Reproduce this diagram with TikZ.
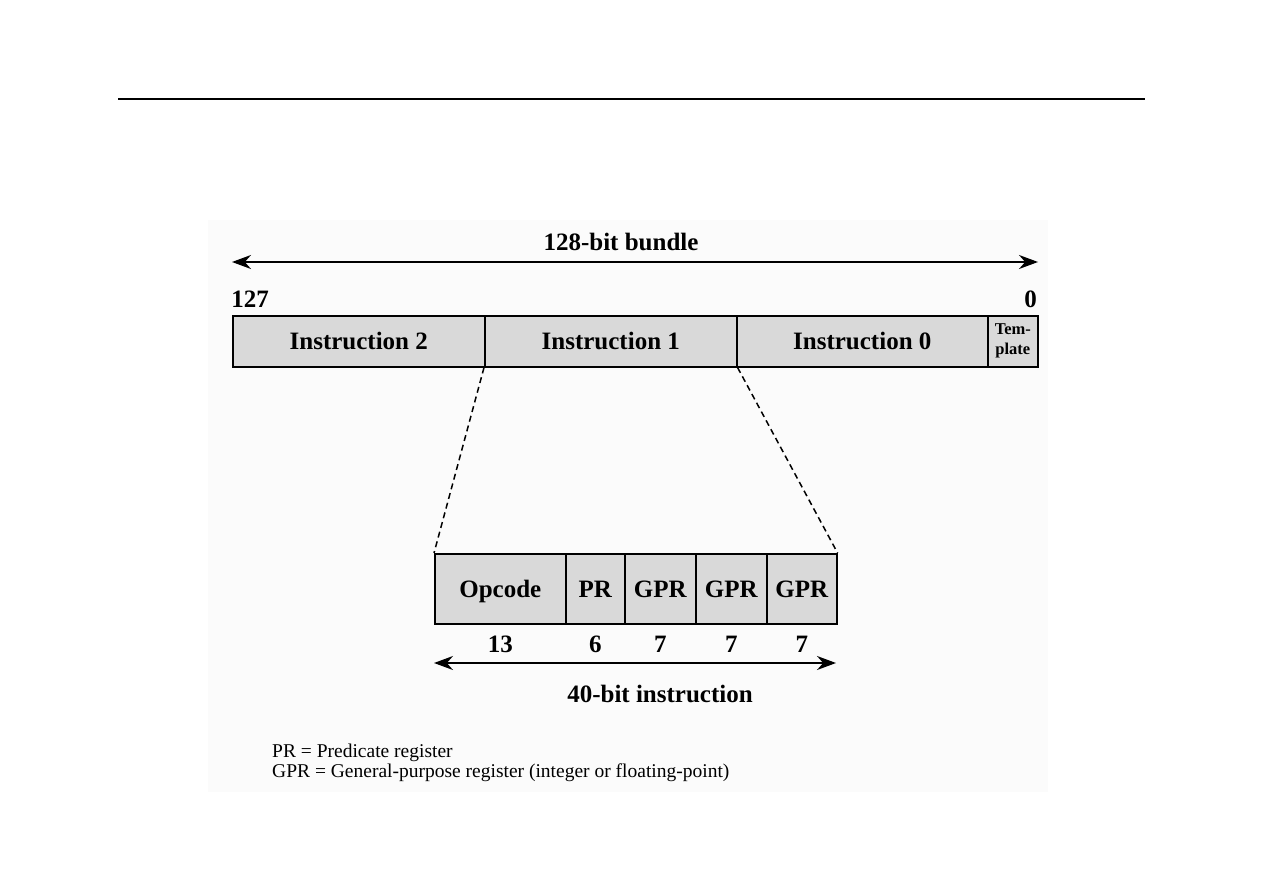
\documentclass[tikz,border=0pt]{standalone}
\usepackage{fontspec}
\setmainfont{Liberation Serif}
\usetikzlibrary{arrows.meta}
\definecolor{fieldGray}{HTML}{D9D9D9}
\definecolor{panelGray}{HTML}{FBFBFB}

\begin{document}
\begin{tikzpicture}[x=1pt, y=-1pt,
    cell/.style={draw, line width=1.6pt, fill=fieldGray, inner sep=0pt, anchor=north west},
    field/.style={cell, text height=16.5pt, text depth=0pt,
        font=\fontsize{25}{30}\selectfont\bfseries},
    span/.style={{Stealth[length=19pt,width=14pt]}-{Stealth[length=19pt,width=14pt]}, line width=1.6pt},
    lbl/.style={font=\fontsize{25}{30}\selectfont\bfseries, inner sep=0pt}]
    \useasboundingbox (0,0) rectangle (1263,893);
    \draw[line width=1.2pt] (118,99) -- (1145,99);
    \fill[panelGray] (208,220) rectangle (1048,792);

    % 128-bit bundle
    \coordinate (bundleL) at (232,262);
    \coordinate (bundleR) at (1038,262);
    \draw[span] (bundleL) -- (bundleR);
    \node[lbl] (bundle) at (621,242) {128-bit bundle};
    \node[lbl] (hi) at (250,299) {127};
    \node[lbl, anchor=east] (lo) at (1037,299) {0};
    \node[field, minimum width=252pt, minimum height=51pt] (ins2) at (232,315) {Instruction 2};
    \node[field, minimum width=252pt, minimum height=51pt] (ins1) at (484,315) {Instruction 1};
    \node[field, minimum width=251pt, minimum height=51pt] (ins0) at (736,315) {Instruction 0};
    \node[cell, minimum width=50pt, minimum height=51pt, align=center,
        font=\fontsize{16.5}{20}\selectfont\bfseries] (tmpl) at (987,315) {Tem-\\plate};

    % 40-bit instruction
    \node[field, minimum width=131pt, minimum height=70pt] (op) at (434,553) {Opcode};
    \node[field, minimum width=59pt, minimum height=70pt] (pr) at (565,553) {PR};
    \node[field, minimum width=71pt, minimum height=70pt] (gprA) at (624,553) {GPR};
    \node[field, minimum width=71pt, minimum height=70pt] (gprB) at (695,553) {GPR};
    \node[field, minimum width=70pt, minimum height=70pt] (gprC) at (766,553) {GPR};
    \draw[dashed, line width=1.5pt, dash pattern=on 6pt off 4pt] (ins1.south west) -- (op.north west);
    \draw[dashed, line width=1.5pt, dash pattern=on 6pt off 4pt] (ins1.south east) -- (gprC.north east);
    \foreach \f/\n in {op/13, pr/6, gprA/7, gprB/7, gprC/7}
        \node[lbl] (w\f) at ([yshift=-20pt]\f.south) {\n};
    \coordinate (instrL) at (434,663);
    \coordinate (instrR) at (836,663);
    \draw[span] (instrL) -- (instrR);
    \node[lbl] (instr) at (660,694) {40-bit instruction};

    % legend
    \node[anchor=base west, align=left, inner sep=0pt, font=\fontsize{19.5}{20}\selectfont] (legend) at (272,777.5)
        {PR = Predicate register\\GPR = General-purpose register (integer or floating-point)};
\end{tikzpicture}
\end{document}
